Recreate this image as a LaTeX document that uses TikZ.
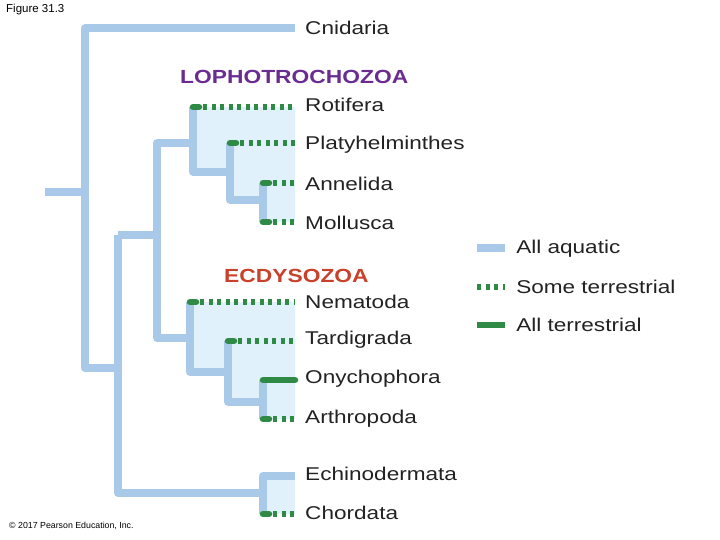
\documentclass[tikz,border=0pt]{standalone}
\usepackage{fontspec}
\setmainfont{Liberation Sans}
\definecolor{br}{HTML}{A9C9E8}
\definecolor{sh}{HTML}{E1F1FB}
\definecolor{gr}{HTML}{2F8A45}
\definecolor{lo}{HTML}{6A2C91}
\definecolor{ec}{HTML}{C8412B}
\definecolor{tx}{HTML}{222222}
\begin{document}
\begin{tikzpicture}[x=1pt,y=-1pt,
 br/.style={draw=br,line width=7.5pt,line join=round},
 terr/.style={draw=gr,line width=6.5pt},
 someterr/.style={draw=gr,line width=6.5pt,dash pattern=on 4pt off 4.5pt},
 lab/.style={anchor=west,font=\fontsize{18.5}{18}\selectfont,inner sep=0pt,xscale=1.22,text=tx},
 clade/.style={anchor=west,font=\bfseries\fontsize{19}{19}\selectfont,inner sep=0pt,xscale=1.2}]
\useasboundingbox (0,0) rectangle (720,540);
% shading
\fill[sh] (193,107)--(295,107)--(295,222)--(263,222)--(263,200)--(230,200)--(230,172)--(193,172)--cycle;
\fill[sh] (190,302)--(295,302)--(295,419)--(263,419)--(263,402)--(228,402)--(228,372)--(190,372)--cycle;
\fill[sh] (263,476)--(295,476)--(295,514)--(263,514)--cycle;
% coordinates
\coordinate (root) at (45,192);
\coordinate (cn) at (295,28);
\coordinate (ro) at (295,107);\coordinate (pl) at (295,143);
\coordinate (an) at (295,183);\coordinate (mo) at (295,222);
\coordinate (ne) at (295,302);\coordinate (ta) at (295,341);
\coordinate (on) at (295,380);\coordinate (ar) at (295,419);
\coordinate (eh) at (295,476);\coordinate (ch) at (295,514);
% branches
\draw[br] (cn) -- (85,28) -- (85,368) -- (118,368);
\draw[br] (root) -- (85,192);
\draw[br] (118,235) -- (118,493) -- (263,493);
\draw[br] (118,235) -- (157,235);
\draw[br] (193,143) -- (157,143) -- (157,338) -- (190,338);
\draw[br] (193,107) -- (193,172) -- (230,172);
\draw[br] (230,143) -- (230,200) -- (263,200);
\draw[br] (263,183) -- (263,222);
\draw[br] (190,302) -- (190,372) -- (228,372);
\draw[br] (228,341) -- (228,402) -- (263,402);
\draw[br] (263,380) -- (263,419);
\draw[br] (eh) -- (263,476) -- (263,514);
% leaves
\foreach \c/\x in {ro/193,pl/230,an/263,mo/263,ne/190,ta/228,ar/263,ch/263}{
  \draw[terr,line cap=round] (\x,0|-\c) -- ++(6,0);
  \draw[someterr] (\x+10,0|-\c) -- (\c);
}
\draw[terr,line cap=round] (263,380) -- (on);
% labels
\node[lab] (tcn) at (305,28) {Cnidaria};
\node[clade,text=lo] (tlo) at (180,77) {LOPHOTROCHOZOA};
\node[lab] (tro) at (305,105) {Rotifera};
\node[lab] (tpl) at (305,145) {Platyhelminthes};
\node[lab] (tan) at (305,184) {Annelida};
\node[lab] (tmo) at (305,223) {Mollusca};
\node[clade,text=ec] (tec) at (224,276) {ECDYSOZOA};
\node[lab] (tne) at (305,302) {Nematoda};
\node[lab] (tta) at (305,340) {Tardigrada};
\node[lab] (ton) at (305,379) {Onychophora};
\node[lab] (tar) at (305,419) {Arthropoda};
\node[lab] (teh) at (305,474) {Echinodermata};
\node[lab] (tch) at (305,513) {Chordata};
% legend
\coordinate (l1) at (477,248);\coordinate (l2) at (477,287);\coordinate (l3) at (477,325);
\draw[br] (l1) -- ++(28,0);
\draw[someterr] (l2) -- ++(28,0);
\draw[terr] (l3) -- ++(28,0);
\node[lab] (t1) at (516,249) {All aquatic};
\node[lab] (t2) at (516,287) {Some terrestrial};
\node[lab] (t3) at (516,325) {All terrestrial};
\node[anchor=north west,font=\fontsize{11.5}{11}\selectfont,inner sep=0pt] (fig) at (6,4) {Figure 31.3};
\node[anchor=west,font=\fontsize{8.8}{9}\selectfont,inner sep=0pt] (cp) at (9,526) {© 2017 Pearson Education, Inc.};
\end{tikzpicture}
\end{document}
